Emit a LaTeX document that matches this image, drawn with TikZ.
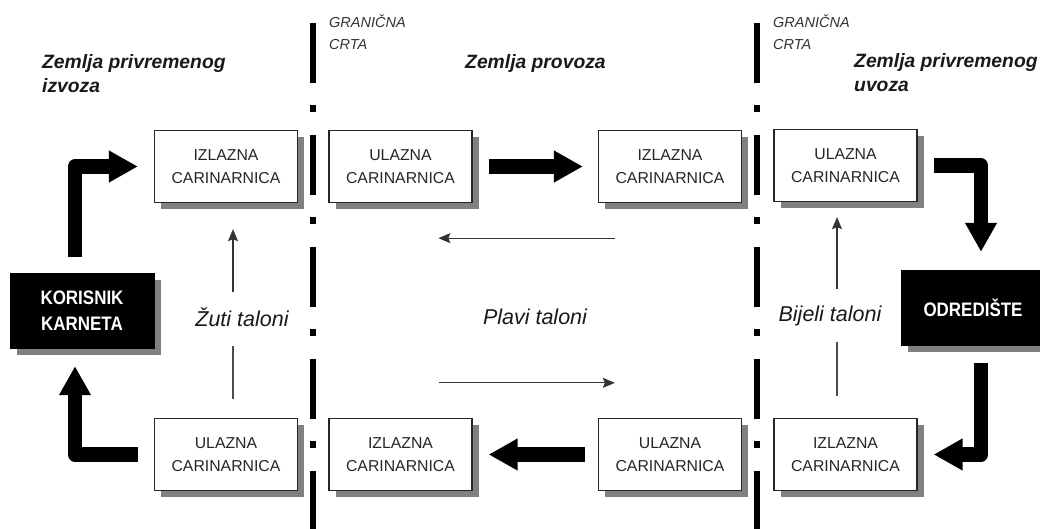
\documentclass[tikz,border=0pt]{standalone}
\usepackage{fontspec}
\setmainfont{Liberation Sans}
\newfontfamily\narrowfont[FakeStretch=0.87]{Liberation Sans}
\usetikzlibrary{arrows.meta,shadows}
\begin{document}
\begin{tikzpicture}[x=1pt,y=-1pt,
  shadowed/.style={drop shadow={shadow xshift=6.5pt,shadow yshift=-6.5pt,fill=black!50,opacity=1}},
  cbox/.style={shadowed,draw=black!85,line width=1.3pt,fill=white,minimum width=143pt,minimum height=72pt,
    inner sep=0pt,align=center,text=black!85,font=\fontsize{15.8}{23}\selectfont},
  blackbox/.style={shadowed,draw=black,fill=black,minimum width=144pt,minimum height=75pt,inner sep=0pt,
    align=center,text=white,font=\narrowfont\bfseries\fontsize{19.5}{26}\selectfont},
  heading/.style={inner sep=0pt,align=left,text=black!90,font=\bfseries\itshape\fontsize{19.3}{24}\selectfont},
  granlabel/.style={inner sep=0pt,align=left,text=black!80,font=\itshape\fontsize{14.5}{22}\selectfont},
  talon/.style={inner sep=0pt,text=black!90,font=\itshape\fontsize{21.5}{26}\selectfont},
  border/.style={line width=6pt,draw=black,dash pattern=on 60pt off 22pt on 7pt off 23pt},
  thickarrow/.style={line width=14.5pt,draw=black,line join=round,-{Triangle[length=29pt,width=30pt]}},
  thinarrow/.style={line width=1.1pt,draw=black!80,-{Stealth[length=12pt,width=10pt,inset=2pt]}},
  thinline/.style={line width=1.1pt,draw=black!70}
]
\useasboundingbox (0,0) rectangle (1040,528);
% border lines
\draw[border] (313,23) -- (313,545);
\draw[border] (757,23) -- (757,545);
% labels
\node[granlabel,anchor=north west] (g1) at (329,15) {GRANIČNA\\CRTA};
\node[granlabel,anchor=north west] (g2) at (773,15) {GRANIČNA\\CRTA};
\node[heading,anchor=base west] (h1) at (42,92) {Zemlja privremenog\\izvoza};
\node[heading,anchor=base west] (h2) at (465,68) {Zemlja provoza};
\node[heading,anchor=base west] (h3) at (854,91) {Zemlja privremenog\\uvoza};
% boxes
\node[cbox] (b1) at (226,166.5) {IZLAZNA\\CARINARNICA};
\node[cbox] (b2) at (400.5,166.5) {ULAZNA\\CARINARNICA};
\node[cbox] (b3) at (670,166.5) {IZLAZNA\\CARINARNICA};
\node[cbox] (b4) at (845.5,165.5) {ULAZNA\\CARINARNICA};
\node[cbox] (a1) at (226,454.5) {ULAZNA\\CARINARNICA};
\node[cbox] (a2) at (400.5,454.5) {IZLAZNA\\CARINARNICA};
\node[cbox] (a3) at (670,454.5) {ULAZNA\\CARINARNICA};
\node[cbox] (a4) at (845.5,454.5) {IZLAZNA\\CARINARNICA};
\node[blackbox] (kor) at (82,310.5) {KORISNIK\\KARNETA};
\node[blackbox] (odr) at (973,307.5) {ODREDIŠTE};
% talon labels
\node[talon] (zuti) at (242,317) {Žuti taloni};
\node[talon] (plavi) at (535,317) {Plavi taloni};
\node[talon] (bijeli) at (830,316) {Bijeli taloni};
% thick arrows
\draw[thickarrow] ([xshift=-7pt,yshift=16pt]kor.north) |- ([xshift=-16pt]b1.west);
\draw[thickarrow] ([xshift=-16pt]a1.west) -| ([xshift=-7pt,yshift=-18pt]kor.south);
\draw[thickarrow] ([xshift=16pt]b4.east) -| ([xshift=8pt,yshift=18pt]odr.north);
\draw[thickarrow] ([xshift=8pt,yshift=-18pt]odr.south) |- ([xshift=16pt]a4.east);
\draw[thickarrow] ([xshift=16pt]b2.east) -- ([xshift=-15pt]b3.west);
\draw[thickarrow] ([xshift=-13pt]a3.west) -- ([xshift=16pt]a2.east);
% thin arrows
\draw[thinline] ([xshift=7pt,yshift=19pt]a1.north) -- ([xshift=7pt,yshift=72pt]a1.north);
\draw[thinarrow] ([xshift=7pt,yshift=-89pt]b1.south) -- ([xshift=7pt,yshift=-26pt]b1.south);
\draw[thinline] ([xshift=-8.5pt,yshift=22pt]a4.north) -- ([xshift=-8.5pt,yshift=76pt]a4.north);
\draw[thinarrow] ([xshift=-8.5pt,yshift=-87pt]b4.south) -- ([xshift=-8.5pt,yshift=-15pt]b4.south);
\draw[thinarrow] ([xshift=17pt,yshift=-35pt]b3.south west) -- ([xshift=110pt,yshift=-35pt]b2.south west);
\draw[thinarrow] ([xshift=111pt,yshift=35pt]a2.north west) -- ([xshift=17pt,yshift=35pt]a3.north west);
\end{tikzpicture}
\end{document}
